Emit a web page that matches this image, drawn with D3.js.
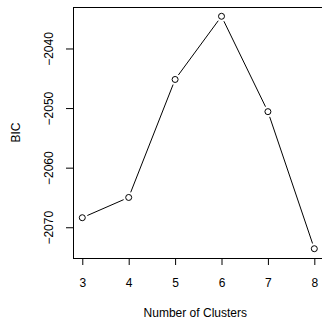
<!DOCTYPE html>
<html>
<head>
<meta charset="utf-8">
<script src="https://cdn.jsdelivr.net/npm/d3@7"></script>
<style>
  body { margin: 0; background: #fff; }
  text { font-family: "Liberation Sans", Arial, sans-serif; font-size: 12px; fill: #000; }
</style>
</head>
<body>
<div class="graph"></div>
<script>
// data
const clusters = [3, 4, 5, 6, 7, 8];
const bic = [-2068.4, -2065.0, -2045.2, -2034.6, -2050.6, -2073.6];
const yTicks = [-2070, -2060, -2050, -2040];
const xTicks = [3, 4, 5, 6, 7, 8];

const SIZE = {X: 322, Y: 325};
// plot region (box runs off the right edge, like the original)
const PLOT = {LEFT: 73, TOP: 7, RIGHT: 323.6, BOTTOM: 258};

const svg = d3.select(".graph").append("svg")
    .attr("width", SIZE.X)
    .attr("height", SIZE.Y);

// R style 4% padding on each side
const xPad = (d3.max(clusters) - d3.min(clusters)) * 0.04;
const yPad = (d3.max(bic) - d3.min(bic)) * 0.04;

const x = d3.scaleLinear()
    .domain([d3.min(clusters) - xPad, d3.max(clusters) + xPad])
    .range([PLOT.LEFT, PLOT.RIGHT]);

const y = d3.scaleLinear()
    .domain([d3.min(bic) - yPad, d3.max(bic) + yPad])
    .range([PLOT.BOTTOM, PLOT.TOP]);

//box
svg.append("rect")
    .attr("x", PLOT.LEFT + 0.5)
    .attr("y", PLOT.TOP + 0.5)
    .attr("width", PLOT.RIGHT - PLOT.LEFT)
    .attr("height", PLOT.BOTTOM - PLOT.TOP)
    .attr("fill", "none")
    .attr("stroke", "#000")
    .attr("stroke-width", 1);

//axes
const xAxis = svg.append("g")
    .attr("transform", `translate(0, ${PLOT.BOTTOM})`)
    .call(d3.axisBottom(x).tickValues(xTicks).tickSize(7).tickPadding(13).tickFormat(d3.format("d")));

const yAxis = svg.append("g")
    .attr("transform", `translate(${PLOT.LEFT}, 0)`)
    .call(d3.axisLeft(y).tickValues(yTicks).tickSize(7).tickFormat(d => d3.format("d")(d).replace("-", "\u2212")));

// axis line only between first and last tick (R style)
xAxis.select(".domain")
    .attr("d", `M${x(xTicks[0])},0.5H${x(xTicks[xTicks.length - 1])}`);
yAxis.select(".domain")
    .attr("d", `M0.5,${y(yTicks[0])}V${y(yTicks[yTicks.length - 1])}`);

svg.selectAll(".tick line").attr("stroke", "#000");
svg.selectAll(".domain").attr("stroke", "#000");
svg.selectAll(".tick text")
    .attr("font-family", "Liberation Sans, Arial, sans-serif")
    .attr("font-size", 12)
    .attr("fill", "#000");

// rotate y tick labels
yAxis.selectAll(".tick text")
    .attr("text-anchor", "middle")
    .attr("dy", null)
    .attr("x", null)
    .attr("transform", "translate(-24,0) rotate(-90)")
    .attr("dominant-baseline", "central");

//axis titles
svg.append("text")
    .attr("x", (PLOT.LEFT + PLOT.RIGHT) / 2 - 3)
    .attr("y", 317)
    .attr("text-anchor", "middle")
    .text("Number of Clusters");

svg.append("text")
    .attr("transform", `translate(20, ${(PLOT.TOP + PLOT.BOTTOM) / 2}) rotate(-90)`)
    .attr("text-anchor", "middle")
    .text("BIC");

// line segments with gaps round points (type = "b")
const pts = clusters.map((c, i) => ({px: x(c), py: y(bic[i])}));
const GAP = 5.5;
for (let i = 0; i < pts.length - 1; i++) {
    const a = pts[i], b = pts[i + 1];
    const dx = b.px - a.px, dy = b.py - a.py;
    const len = Math.sqrt(dx * dx + dy * dy);
    if (len <= 2 * GAP) continue;
    const ux = dx / len, uy = dy / len;
    svg.append("line")
        .attr("x1", a.px + ux * GAP)
        .attr("y1", a.py + uy * GAP)
        .attr("x2", b.px - ux * GAP)
        .attr("y2", b.py - uy * GAP)
        .attr("stroke", "#000")
        .attr("stroke-width", 1);
}

svg.selectAll("circle.pt")
    .data(pts)
    .enter()
    .append("circle")
        .attr("class", "pt")
        .attr("cx", d => d.px)
        .attr("cy", d => d.py)
        .attr("r", 3)
        .attr("fill", "none")
        .attr("stroke", "#000")
        .attr("stroke-width", 1);
</script>
</body>
</html>
